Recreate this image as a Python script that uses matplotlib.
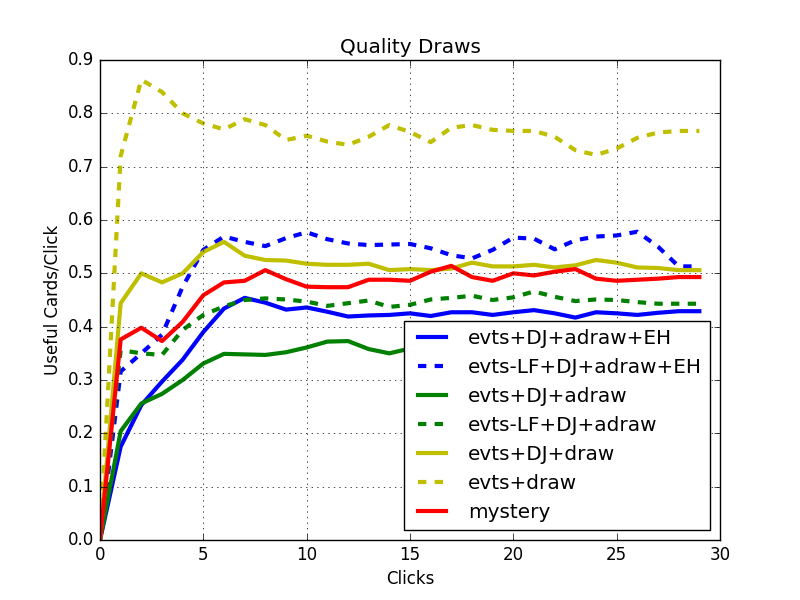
import matplotlib
matplotlib.use("Agg")
import matplotlib.pyplot as plt

plt.style.use("classic")

clicks = list(range(30))

dj_adraw_eh = [0.0, 0.175, 0.253, 0.297, 0.338, 0.390, 0.434, 0.454, 0.445, 0.432,
               0.436, 0.428, 0.419, 0.421, 0.422, 0.425, 0.420, 0.427, 0.427, 0.422,
               0.427, 0.431, 0.425, 0.417, 0.427, 0.425, 0.422, 0.426, 0.429, 0.429]
lf_dj_adraw_eh = [0.0, 0.316, 0.350, 0.385, 0.475, 0.544, 0.569, 0.559, 0.551, 0.566,
                  0.577, 0.564, 0.556, 0.553, 0.554, 0.555, 0.547, 0.534, 0.528, 0.544,
                  0.567, 0.565, 0.545, 0.562, 0.569, 0.571, 0.578, 0.550, 0.513, 0.513]
dj_adraw = [0.0, 0.204, 0.256, 0.274, 0.300, 0.331, 0.349, 0.348, 0.347, 0.352,
            0.361, 0.372, 0.373, 0.358, 0.350, 0.359, 0.362, 0.365, 0.363, 0.366,
            0.368, 0.370, 0.367, 0.364, 0.368, 0.370, 0.369, 0.371, 0.372, 0.372]
lf_dj_adraw = [0.0, 0.356, 0.350, 0.347, 0.394, 0.422, 0.438, 0.450, 0.453, 0.451,
               0.447, 0.439, 0.444, 0.449, 0.437, 0.441, 0.451, 0.454, 0.458, 0.450,
               0.455, 0.466, 0.456, 0.448, 0.451, 0.450, 0.446, 0.443, 0.443, 0.443]
dj_draw = [0.0, 0.444, 0.500, 0.483, 0.500, 0.540, 0.559, 0.533, 0.525, 0.524,
           0.518, 0.516, 0.516, 0.518, 0.506, 0.508, 0.506, 0.509, 0.520, 0.513,
           0.513, 0.516, 0.511, 0.515, 0.525, 0.520, 0.511, 0.510, 0.506, 0.506]
evts_draw = [0.0, 0.720, 0.863, 0.840, 0.800, 0.781, 0.770, 0.789, 0.778, 0.750,
             0.758, 0.747, 0.741, 0.756, 0.778, 0.765, 0.746, 0.773, 0.778, 0.769,
             0.767, 0.767, 0.756, 0.731, 0.722, 0.734, 0.754, 0.764, 0.767, 0.767]
mystery = [0.0, 0.376, 0.398, 0.373, 0.409, 0.459, 0.483, 0.486, 0.506, 0.489,
           0.475, 0.474, 0.474, 0.488, 0.488, 0.486, 0.503, 0.514, 0.493, 0.486,
           0.500, 0.496, 0.503, 0.508, 0.490, 0.486, 0.488, 0.490, 0.493, 0.493]

fig, ax = plt.subplots(figsize=(8, 6), dpi=100)
fig.subplots_adjust(left=0.125, right=0.9, bottom=0.1, top=0.9)

ax.plot(clicks, dj_adraw_eh, "b-", lw=3, label="evts+DJ+adraw+EH")
ax.plot(clicks, lf_dj_adraw_eh, "b--", lw=3, label="evts-LF+DJ+adraw+EH")
ax.plot(clicks, dj_adraw, "g-", lw=3, label="evts+DJ+adraw")
ax.plot(clicks, lf_dj_adraw, "g--", lw=3, label="evts-LF+DJ+adraw")
ax.plot(clicks, dj_draw, "y-", lw=3, label="evts+DJ+draw")
ax.plot(clicks, evts_draw, "y--", lw=3, label="evts+draw")
ax.plot(clicks, mystery, "r-", lw=3, label="mystery")

ax.set_xlim(0, 30)
ax.set_ylim(0, 0.9)
ax.set_title("Quality Draws")
ax.set_xlabel("Clicks")
ax.set_ylabel("Useful Cards/Click")
ax.grid(True)
ax.legend(loc="lower right")

fig.savefig("out.png", dpi=100)
